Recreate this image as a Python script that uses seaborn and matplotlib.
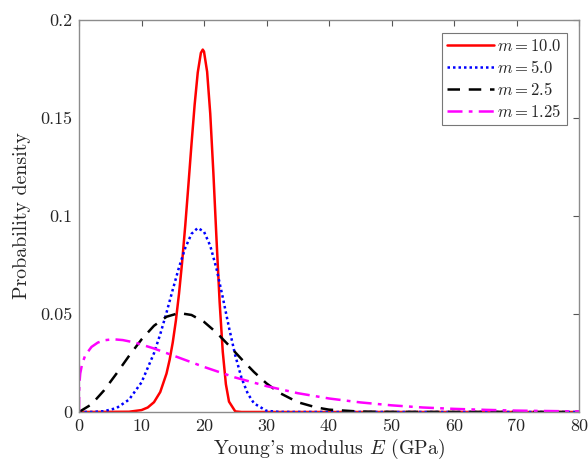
import numpy as np
import pandas as pd
import matplotlib
matplotlib.use("Agg")
import matplotlib.pyplot as plt
import seaborn as sns

# ---- data ----
x_m10 = [0, 8, 10, 11, 12, 13, 14, 14.5, 15, 15.5, 16, 16.5, 17, 17.5, 18, 18.5, 19, 19.5, 19.8, 20,
         20.5, 21, 21.5, 22, 22.5, 23, 23.5, 24, 25, 26, 28, 80]
y_m10 = [0, 0.00013, 0.00098, 0.0023, 0.0050, 0.0102, 0.0196, 0.0266, 0.0355, 0.0466, 0.0603, 0.0765,
         0.0951, 0.1156, 0.1367, 0.1567, 0.1732, 0.1832, 0.1849, 0.1839,
         0.1736, 0.1522, 0.1220, 0.0882, 0.0561, 0.0308, 0.0142, 0.0053, 0.0003, 0.0, 0.0, 0.0]

x_m5 = [0, 2, 4, 6, 8, 10, 12, 13, 14, 15, 16, 17, 18, 19, 20, 21, 22, 23, 24, 25, 26, 27, 28, 30, 32, 35, 80]
y_m5 = [0, 0.000025, 0.0004, 0.0020, 0.0063, 0.0151, 0.0300, 0.0397, 0.0507, 0.0624, 0.0738, 0.0837,
        0.0909, 0.0939, 0.0920, 0.0848, 0.0731, 0.0585, 0.0431, 0.0289, 0.0174, 0.0094, 0.0044,
        0.0006, 0.00005, 0.0, 0.0]

x_m25 = [0, 2, 4, 6, 8, 10, 12, 14, 16, 18, 20, 22, 24, 26, 28, 30, 32, 35, 38, 40, 45, 50, 80]
y_m25 = [0, 0.0039, 0.0110, 0.0196, 0.0286, 0.0370, 0.0440, 0.0486, 0.0505, 0.0495, 0.0460, 0.0405,
         0.0339, 0.0270, 0.0204, 0.0146, 0.0099, 0.0050, 0.0023, 0.0012, 0.0002, 0.00003, 0.0]

x_m125 = [0, 0.05, 0.2, 0.5, 1, 2, 3, 4, 5.5, 7, 9, 12, 15, 20, 25, 30, 35, 40, 45, 50, 55, 60, 65, 70, 75, 80]
y_m125 = [0, 0.0140, 0.0197, 0.0246, 0.0289, 0.0332, 0.0354, 0.0366, 0.0371, 0.0367, 0.0354, 0.0324,
          0.0289, 0.0230, 0.0176, 0.0132, 0.0096, 0.0069, 0.0049, 0.0034, 0.0023, 0.0016, 0.0011,
          0.0007, 0.0005, 0.0003]

labels = ["$m = 10.0$", "$m = 5.0$", "$m = 2.5$", "$m = 1.25$"]
x_ticks = [0, 10, 20, 30, 40, 50, 60, 70, 80]
y_ticks = [0, 0.05, 0.1, 0.15, 0.2]
y_tick_labels = ["0", "0.05", "0.1", "0.15", "0.2"]

# ---- style ----
sns.set_theme(style="white")
plt.rcParams["font.family"] = ["cmr10", "DejaVu Serif"]
plt.rcParams["mathtext.fontset"] = "cm"
plt.rcParams["axes.formatter.use_mathtext"] = True
plt.rcParams["axes.unicode_minus"] = False

fig = plt.figure(figsize=(5.88, 4.69), dpi=100)
ax = fig.add_axes([79 / 588, 57 / 469, 500 / 588, 392 / 469])

series = [
    (x_m10, y_m10, "#ff0000", "-"),
    (x_m5, y_m5, "#0000ff", (0, (1, 1.2))),
    (x_m25, y_m25, "#000000", (0, (5, 3.5))),
    (x_m125, y_m125, "#ff00ff", (0, (6, 2.5, 1.5, 2.5))),
]
for (xs, ys, c, ls), lab in zip(series, labels):
    df = pd.DataFrame({"x": xs, "y": ys})
    sns.lineplot(data=df, x="x", y="y", ax=ax, color=c, linestyle=ls, linewidth=1.8,
                 label=lab, estimator=None, sort=False)

ax.set_xlim(0, 80)
ax.set_ylim(0, 0.2)
ax.set_xticks(x_ticks)
ax.set_xticklabels([str(t) for t in x_ticks])
ax.set_yticks(y_ticks)
ax.set_yticklabels(y_tick_labels)
ax.tick_params(direction="in", top=True, right=True, length=4, width=0.8,
               color="#555555", labelsize=13, labelcolor="#262626", pad=5)
for s in ax.spines.values():
    s.set_color("#8c8c8c")
    s.set_linewidth(1.0)
ax.set_xlabel("Young's modulus $E$ (GPa)", fontsize=14.3, color="#262626", labelpad=2)
ax.set_ylabel("Probability density", fontsize=14.3, color="#262626", labelpad=6)

leg = ax.legend(loc="upper right", fontsize=12, frameon=True, fancybox=False,
                edgecolor="#555555", handlelength=2.8, handletextpad=0.2,
                borderpad=0.3, labelspacing=0.3, borderaxespad=0.75)
leg.get_frame().set_linewidth(0.8)
for t in leg.get_texts():
    t.set_color("#262626")

fig.savefig("out.png", dpi=100)
